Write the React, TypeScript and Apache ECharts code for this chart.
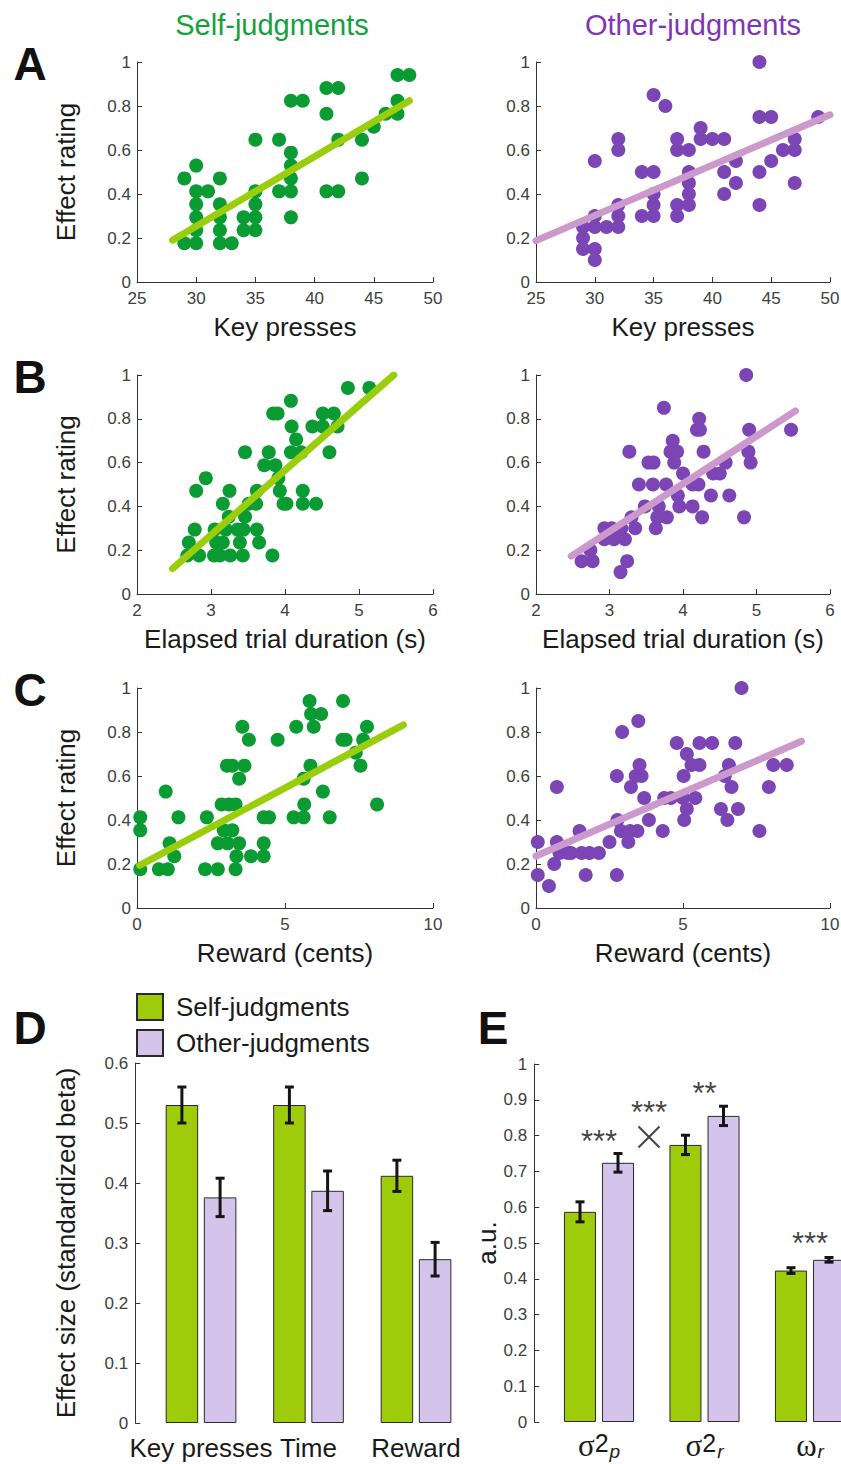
import React, { useEffect, useRef } from 'react';
import * as echarts from 'echarts';

const FONT = "'Liberation Sans', Arial, Helvetica, sans-serif";
const SERIF = "'Liberation Serif', 'DejaVu Serif', serif";

// ---------- Panel A: Key presses ----------
const selfKeyPresses: number[][] = [
  [29, 0.471], [30, 0.529], [30, 0.412], [31, 0.412], [30, 0.353], [30, 0.294], [30, 0.235],
  [29, 0.176], [30, 0.176], [32, 0.471], [32, 0.353], [32, 0.294], [32, 0.235], [32, 0.176],
  [33, 0.176], [34, 0.294], [34, 0.235], [35, 0.235], [35, 0.294], [35, 0.353], [35, 0.412],
  [35, 0.647], [37, 0.647], [37, 0.412], [38, 0.412], [38, 0.471], [38, 0.529], [38, 0.588],
  [38, 0.294], [38, 0.824], [39, 0.824], [41, 0.882], [42, 0.882], [41, 0.765], [41, 0.412],
  [42, 0.412], [42, 0.647], [44, 0.647], [44, 0.471], [45, 0.706], [46, 0.765], [47, 0.765],
  [47, 0.824], [47, 0.941], [48, 0.941],
];
const otherKeyPresses: number[][] = [
  [44, 1.0], [35, 0.85], [36, 0.8], [44, 0.75], [45, 0.75], [49, 0.75], [30, 0.55], [32, 0.65],
  [32, 0.6], [32, 0.35], [32, 0.3], [32, 0.25], [31, 0.25], [30, 0.3], [30, 0.25], [29, 0.25],
  [29, 0.2], [29, 0.15], [30, 0.15], [30, 0.1], [34, 0.5], [35, 0.5], [34, 0.3], [35, 0.3],
  [35, 0.35], [35, 0.4], [37, 0.65], [37, 0.6], [38, 0.6], [37, 0.35], [37, 0.3], [38, 0.5],
  [38, 0.45], [38, 0.4], [38, 0.35], [39, 0.7], [39, 0.65], [40, 0.65], [41, 0.65], [41, 0.5],
  [41, 0.4], [42, 0.55], [42, 0.45], [44, 0.5], [44, 0.35], [45, 0.55], [46, 0.6], [47, 0.65],
  [47, 0.6], [47, 0.45],
];
const selfKeyFit: number[][] = [[28, 0.19], [48, 0.824]];
const otherKeyFit: number[][] = [[25, 0.188], [50, 0.76]];

// ---------- Panel B: Elapsed trial duration ----------
const selfDuration: number[][] = [
  [4.85, 0.941], [5.14, 0.941], [4.08, 0.882], [3.84, 0.824], [3.9, 0.824], [4.51, 0.824],
  [4.66, 0.824], [4.09, 0.765], [4.37, 0.765], [4.51, 0.765], [4.71, 0.765], [4.15, 0.706],
  [3.46, 0.647], [3.78, 0.647], [4.08, 0.647], [4.22, 0.647], [4.6, 0.647], [3.72, 0.588],
  [3.87, 0.588], [3.91, 0.529], [2.93, 0.529], [2.8, 0.471], [3.25, 0.471], [3.62, 0.471],
  [3.93, 0.471], [4.24, 0.471], [3.16, 0.412], [3.51, 0.412], [3.61, 0.412], [3.98, 0.412],
  [4.02, 0.412], [4.24, 0.412], [4.42, 0.412], [3.24, 0.353], [3.46, 0.353], [2.78, 0.294],
  [3.05, 0.294], [3.2, 0.294], [3.36, 0.294], [3.44, 0.294], [3.62, 0.294], [2.7, 0.235],
  [3.07, 0.235], [3.16, 0.235], [3.39, 0.235], [3.65, 0.235], [2.68, 0.176], [2.84, 0.176],
  [3.04, 0.176], [3.12, 0.176], [3.26, 0.176], [3.43, 0.176], [3.83, 0.176],
];
const otherDuration: number[][] = [
  [4.86, 1.0], [3.74, 0.85], [4.22, 0.8], [4.19, 0.75], [4.23, 0.75], [4.9, 0.75], [5.47, 0.75],
  [3.86, 0.7], [3.27, 0.65], [3.83, 0.65], [3.92, 0.65], [4.28, 0.65], [4.89, 0.65], [3.53, 0.6],
  [3.6, 0.6], [3.88, 0.6], [4.58, 0.6], [4.92, 0.6], [4.0, 0.55], [4.41, 0.55], [4.5, 0.55],
  [3.4, 0.5], [3.59, 0.5], [3.77, 0.5], [4.13, 0.5], [4.21, 0.5], [3.93, 0.45], [4.38, 0.45],
  [4.63, 0.45], [3.48, 0.4], [3.67, 0.4], [3.95, 0.4], [4.13, 0.4], [3.3, 0.35], [3.65, 0.35],
  [3.78, 0.35], [4.26, 0.35], [4.83, 0.35], [2.93, 0.3], [3.03, 0.3], [3.16, 0.3], [3.35, 0.3],
  [3.63, 0.3], [2.93, 0.25], [3.06, 0.25], [3.21, 0.25], [2.74, 0.2], [2.62, 0.15], [2.77, 0.15],
  [3.24, 0.15], [3.15, 0.1],
];
const selfDurationFit: number[][] = [[2.48, 0.116], [5.47, 1.0]];
const otherDurationFit: number[][] = [[2.48, 0.173], [5.53, 0.836]];

// ---------- Panel C: Reward ----------
const selfReward: number[][] = [
  [0.11, 0.412], [0.11, 0.353], [0.11, 0.176], [0.74, 0.176], [1.04, 0.176], [0.97, 0.529],
  [1.4, 0.412], [1.1, 0.294], [1.26, 0.235], [2.3, 0.176], [2.73, 0.176], [2.36, 0.412],
  [2.86, 0.471], [3.04, 0.647], [3.22, 0.647], [3.11, 0.471], [3.33, 0.471], [2.93, 0.353],
  [3.22, 0.353], [2.73, 0.294], [3.06, 0.294], [3.45, 0.294], [3.36, 0.235], [3.85, 0.235],
  [4.28, 0.235], [3.33, 0.176], [4.28, 0.294], [3.56, 0.824], [3.78, 0.765], [3.63, 0.647],
  [3.45, 0.588], [4.28, 0.412], [4.46, 0.412], [4.75, 0.765], [5.29, 0.412], [5.63, 0.412],
  [5.65, 0.471], [5.63, 0.588], [5.86, 0.647], [5.38, 0.824], [5.83, 0.941], [5.88, 0.882],
  [6.22, 0.882], [5.97, 0.824], [6.28, 0.529], [6.51, 0.412], [6.96, 0.941], [6.94, 0.765],
  [7.05, 0.765], [7.39, 0.706], [7.55, 0.647], [7.64, 0.765], [7.77, 0.824], [8.11, 0.471],
];
const otherReward: number[][] = [
  [6.99, 1.0], [3.48, 0.85], [2.93, 0.8], [4.79, 0.75], [5.56, 0.75], [5.99, 0.75], [6.78, 0.75],
  [5.13, 0.7], [3.52, 0.65], [5.29, 0.65], [5.56, 0.65], [6.56, 0.65], [8.07, 0.65], [8.53, 0.65],
  [2.75, 0.6], [3.39, 0.6], [3.59, 0.6], [5.02, 0.6], [6.42, 0.6], [0.71, 0.55], [3.23, 0.55],
  [6.65, 0.55], [7.92, 0.55], [3.68, 0.5], [4.36, 0.5], [4.59, 0.5], [5.0, 0.5], [5.42, 0.5],
  [5.13, 0.45], [6.29, 0.45], [6.87, 0.45], [3.84, 0.4], [5.04, 0.4], [6.51, 0.4], [2.77, 0.4],
  [4.31, 0.35], [2.89, 0.35], [3.2, 0.35], [3.45, 0.35], [7.6, 0.35], [1.48, 0.35], [3.14, 0.3],
  [2.5, 0.3], [0.06, 0.3], [0.71, 0.3], [0.8, 0.25], [1.08, 0.25], [1.19, 0.25], [1.55, 0.25],
  [1.82, 0.25], [2.14, 0.25], [0.62, 0.2], [0.06, 0.15], [1.69, 0.15], [2.75, 0.15], [0.44, 0.1],
];
const selfRewardFit: number[][] = [[0.09, 0.194], [9.0, 0.832]];
const otherRewardFit: number[][] = [[0.0, 0.236], [9.03, 0.758]];

// ---------- Panel D: effect sizes ----------
const predictors = ['Key presses', 'Time', 'Reward'];
const selfBeta = [0.53, 0.53, 0.412];
const selfBetaErr = [0.03, 0.03, 0.026];
const otherBeta = [0.376, 0.387, 0.273];
const otherBetaErr = [0.032, 0.033, 0.028];

// ---------- Panel E: model parameters ----------
const params = ['σ2p', 'σ2r', 'ωr'];
const selfParam = [0.587, 0.774, 0.423];
const selfParamErr = [0.028, 0.027, 0.008];
const otherParam = [0.724, 0.855, 0.453];
const otherParamErr = [0.026, 0.027, 0.0065];
const sigStars = ['***', '**', '***'];
const interactionStars = '***';

const SELF_DOT = '#0A9B33';
const OTHER_DOT = '#7B45B5';
const SELF_FIT = '#9ACD0C';
const OTHER_FIT = '#CC99CC';
const SELF_BAR = '#9ECC0A';
const OTHER_BAR = '#D4C4EC';
const AX = '#333333';
const TICK = '#404040';
const INK = '#1a1a1a';

function buildOption() {
  const scatterPanels = [
    { grid: { left: 137, top: 62, width: 296, height: 220 }, min: 25, max: 50, interval: 5, pts: selfKeyPresses, fit: selfKeyFit, self: true, xName: 'Key presses' },
    { grid: { left: 536, top: 62, width: 294, height: 220 }, min: 25, max: 50, interval: 5, pts: otherKeyPresses, fit: otherKeyFit, self: false, xName: 'Key presses' },
    { grid: { left: 137, top: 375, width: 296, height: 219 }, min: 2, max: 6, interval: 1, pts: selfDuration, fit: selfDurationFit, self: true, xName: 'Elapsed trial duration (s)' },
    { grid: { left: 536, top: 375, width: 294, height: 219 }, min: 2, max: 6, interval: 1, pts: otherDuration, fit: otherDurationFit, self: false, xName: 'Elapsed trial duration (s)' },
    { grid: { left: 137, top: 688, width: 296, height: 220 }, min: 0, max: 10, interval: 5, pts: selfReward, fit: selfRewardFit, self: true, xName: 'Reward (cents)' },
    { grid: { left: 536, top: 688, width: 294, height: 220 }, min: 0, max: 10, interval: 5, pts: otherReward, fit: otherRewardFit, self: false, xName: 'Reward (cents)' },
  ];

  const grids: any[] = [];
  const xAxes: any[] = [];
  const yAxes: any[] = [];
  const series: any[] = [];

  const tickLabel = { fontSize: 17, color: TICK, fontFamily: FONT };
  const nameStyle = { fontSize: 26, color: INK, fontFamily: FONT };

  scatterPanels.forEach((p, i) => {
    grids.push({ ...p.grid, outerBoundsMode: 'none', containLabel: false });
    xAxes.push({
      gridIndex: i, type: 'value', min: p.min, max: p.max, interval: p.interval,
      axisLine: { show: true, lineStyle: { color: AX, width: 1 } },
      axisTick: { show: true, inside: true, length: 5, lineStyle: { color: AX } },
      axisLabel: { ...tickLabel, margin: 8 },
      splitLine: { show: false },
      name: p.xName, nameLocation: 'middle', nameGap: 32, nameTextStyle: nameStyle,
    });
    yAxes.push({
      gridIndex: i, type: 'value', min: 0, max: 1, interval: 0.2,
      axisLine: { show: true, lineStyle: { color: AX, width: 1 } },
      axisTick: { show: true, inside: true, length: 5, lineStyle: { color: AX } },
      axisLabel: { ...tickLabel, margin: 6 },
      splitLine: { show: false },
      name: p.self ? 'Effect rating' : '', nameLocation: 'middle', nameGap: 58, nameTextStyle: nameStyle,
    });
    series.push({
      type: 'scatter', name: 'pts' + i, xAxisIndex: i, yAxisIndex: i,
      data: p.pts, symbolSize: 14,
      itemStyle: { color: p.self ? SELF_DOT : OTHER_DOT, opacity: 1 },
      z: 2,
    });
    series.push({
      type: 'line', name: 'fit' + i, xAxisIndex: i, yAxisIndex: i,
      data: p.fit, symbol: 'none',
      lineStyle: { color: p.self ? SELF_FIT : OTHER_FIT, width: 7, cap: 'round' },
      z: 3,
    });
  });

  // Bar panels
  const barPanels = [
    { grid: { left: 147.25, top: 1063, width: 322.5, height: 360 }, cats: predictors, max: 0.6, s: selfBeta, se: selfBetaErr, o: otherBeta, oe: otherBetaErr, yName: 'Effect size (standardized beta)', nameGap: 56, bw: 32.5, gap: '17.5%', off: 19.1, rich: false },
    { grid: { left: 546.25, top: 1064, width: 316.5, height: 358 }, cats: params, max: 1, s: selfParam, se: selfParamErr, o: otherParam, oe: otherParamErr, yName: 'a.u.', nameGap: 34, bw: 32, gap: '19%', off: 19, rich: true },
  ];

  const richLabels: Record<string, string> = {
    'σ2p': '{g|σ}{n|2}{s|p}',
    'σ2r': '{g|σ}{n|2}{s|r}',
    'ωr': '{g|ω}{s|r}',
  };

  barPanels.forEach((b, k) => {
    const gi = 6 + k;
    grids.push({ ...b.grid, outerBoundsMode: 'none', containLabel: false });
    xAxes.push({
      gridIndex: gi, type: 'category', data: b.cats,
      axisLine: { show: false }, axisTick: { show: false },
      axisLabel: b.rich
        ? {
            margin: 8, interval: 0,
            formatter: (v: string) => richLabels[v],
            rich: {
              g: { fontSize: 31, fontFamily: SERIF, color: INK, verticalAlign: 'top', lineHeight: 26 },
              n: { fontSize: 25, fontFamily: FONT, color: INK, verticalAlign: 'top', lineHeight: 25, padding: [0, 0, 0, 0] },
              s: { fontSize: 19, fontFamily: FONT, fontStyle: 'italic', color: INK, verticalAlign: 'top', lineHeight: 16, padding: [12, 0, 0, 1] },
            },
          }
        : { fontSize: 26, color: INK, fontFamily: FONT, margin: 12, interval: 0, hideOverlap: false },
      splitLine: { show: false },
    });
    yAxes.push({
      gridIndex: gi, type: 'value', min: 0, max: b.max, interval: 0.1, offset: 12,
      axisLine: { show: true, lineStyle: { color: AX, width: 1 } },
      axisTick: { show: true, inside: true, length: 5, lineStyle: { color: AX } },
      axisLabel: { ...tickLabel, margin: 7 },
      splitLine: { show: false },
      name: b.yName, nameLocation: 'middle', nameGap: b.nameGap, nameTextStyle: nameStyle,
    });
    series.push({
      type: 'bar', name: 'Self-judgments', xAxisIndex: gi, yAxisIndex: gi,
      data: b.s, barWidth: b.bw, barGap: b.gap,
      itemStyle: { color: SELF_BAR, borderColor: '#2a2a2a', borderWidth: 1 },
    });
    series.push({
      type: 'bar', name: 'Other-judgments', xAxisIndex: gi, yAxisIndex: gi,
      data: b.o, barWidth: b.bw, barGap: b.gap,
      itemStyle: { color: OTHER_BAR, borderColor: '#2a2a2a', borderWidth: 1 },
    });
    const errSeries = (vals: number[], errs: number[], off: number) => ({
      type: 'custom', xAxisIndex: gi, yAxisIndex: gi, z: 5,
      data: vals.map((v, i) => [i, v - errs[i], v + errs[i]]),
      renderItem: (_p: any, api: any) => {
        const top = api.coord([api.value(0), api.value(2)]);
        const bot = api.coord([api.value(0), api.value(1)]);
        const x = top[0] + off;
        const st = { stroke: '#151515', lineWidth: 3 };
        return {
          type: 'group',
          children: [
            { type: 'line', shape: { x1: x, y1: top[1], x2: x, y2: bot[1] }, style: st },
            { type: 'line', shape: { x1: x - 4.5, y1: top[1], x2: x + 4.5, y2: top[1] }, style: st },
            { type: 'line', shape: { x1: x - 4.5, y1: bot[1], x2: x + 4.5, y2: bot[1] }, style: st },
          ],
        };
      },
    });
    series.push(errSeries(b.s, b.se, -b.off));
    series.push(errSeries(b.o, b.oe, b.off));
  });

  // Significance annotations in panel E
  const starLabel = (text: string, dx: number) => ({
    show: true, position: 'inside', formatter: text, offset: [dx, 0],
    fontSize: 31, color: '#111', fontFamily: FONT,
  });
  series.push({
    type: 'scatter', name: 'stars', xAxisIndex: 7, yAxisIndex: 7, symbolSize: 1,
    itemStyle: { color: 'rgba(0,0,0,0)' }, z: 6,
    data: [
      { value: [0, otherParam[0] + 0.06], label: starLabel(sigStars[0], 0) },
      { value: [1, otherParam[1] + 0.062], label: starLabel(sigStars[1], 0) },
      { value: [2, otherParam[2] + 0.045], label: starLabel(sigStars[2], 0) },
      { value: [0, 0.865], label: starLabel(interactionStars, 50) },
    ],
  });
  series.push({
    type: 'scatter', name: 'cross', xAxisIndex: 7, yAxisIndex: 7,
    symbol: 'path://M0 0L20 20M20 0L0 20', symbolSize: 21, symbolOffset: [50, 0],
    itemStyle: { color: 'rgba(0,0,0,0)', borderColor: '#151515', borderWidth: 2 }, z: 6,
    data: [[0, 0.796]],
  });

  const letter = (t: string, x: number, y: number) => ({
    type: 'text', x, y,
    style: { text: t, font: `bold 46px ${FONT}`, fill: '#111', textAlign: 'center', textVerticalAlign: 'middle' },
  });
  const title = (t: string, x: number, color: string) => ({
    type: 'text', x, y: 25,
    style: { text: t, font: `29px ${FONT}`, fill: color, textAlign: 'center', textVerticalAlign: 'middle' },
  });

  return {
    animation: false,
    backgroundColor: '#ffffff',
    textStyle: { fontFamily: FONT },
    grid: grids,
    xAxis: xAxes,
    yAxis: yAxes,
    series,
    legend: {
      orient: 'vertical', left: 136, top: 993, padding: 0, itemWidth: 26, itemHeight: 26, itemGap: 8,
      icon: 'rect', selectedMode: false,
      data: ['Self-judgments', 'Other-judgments'],
      textStyle: { fontSize: 26, color: INK, fontFamily: FONT, padding: [0, 0, 0, 8] },
    },
    graphic: [
      title('Self-judgments', 272, '#12A23A'),
      title('Other-judgments', 693, '#7F35BA'),
      letter('A', 30, 64),
      letter('B', 30, 377),
      letter('C', 30, 690),
      letter('D', 30, 1028),
      letter('E', 493, 1028),
    ],
  };
}

export default function App() {
  const ref = useRef<HTMLDivElement>(null);
  useEffect(() => {
    document.body.style.margin = '0';
    const chart = echarts.init(ref.current!, undefined, { renderer: 'svg', width: 841, height: 1464 });
    chart.setOption(buildOption() as any);
    return () => chart.dispose();
  }, []);
  return <div ref={ref} style={{ width: 841, height: 1464 }} />;
}
